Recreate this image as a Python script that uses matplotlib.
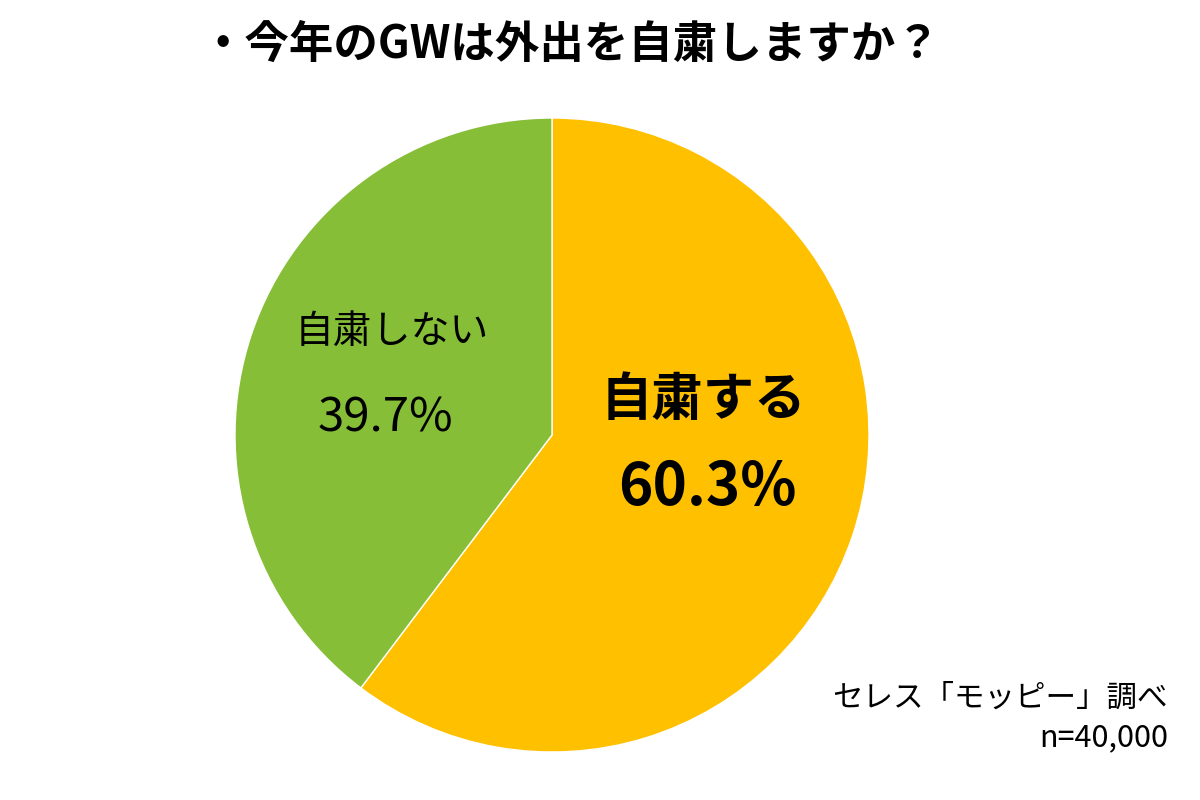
import matplotlib
matplotlib.use("Agg")
import matplotlib.pyplot as plt

plt.rcParams['font.family'] = ['Noto Sans CJK JP', 'DejaVu Sans']

labels = ["自粛する", "自粛しない"]
values = [60.3, 39.7]
colors = ["#FFC000", "#86BE37"]

fig = plt.figure(figsize=(12, 8), dpi=100)
# pie centre ~ (552, 435) px, radius ~ 317 px
r = 317
ax = fig.add_axes([(552 - r) / 1200, (800 - 435 - r) / 800, 2 * r / 1200, 2 * r / 800])
ax.pie(values, colors=colors, startangle=90, counterclock=False, radius=1,
       wedgeprops=dict(edgecolor="white", linewidth=1))
ax.set_xlim(-1, 1)
ax.set_ylim(-1, 1)
ax.axis("off")

fig.text(570 / 1200, 1 - 45 / 800, "・今年のGWは外出を自粛しますか？", ha="center", va="center",
         fontsize=32, fontweight="bold")
fig.text(703 / 1200, 1 - 400 / 800, labels[0], ha="center", va="center", fontsize=37, fontweight="bold")
fig.text(707 / 1200, 1 - 488 / 800, f"{values[0]}%", ha="center", va="center", fontsize=42, fontweight="bold")
fig.text(392 / 1200, 1 - 332 / 800, labels[1], ha="center", va="center", fontsize=28)
fig.text(385 / 1200, 1 - 418 / 800, f"{values[1]}%", ha="center", va="center", fontsize=34)
fig.text(1168 / 1200, 1 - 698 / 800, "セレス「モッピー」調べ", ha="right", va="center", fontsize=22)
fig.text(1168 / 1200, 1 - 738 / 800, "n=40,000", ha="right", va="center", fontsize=22)

fig.savefig("out.png", dpi=100)
